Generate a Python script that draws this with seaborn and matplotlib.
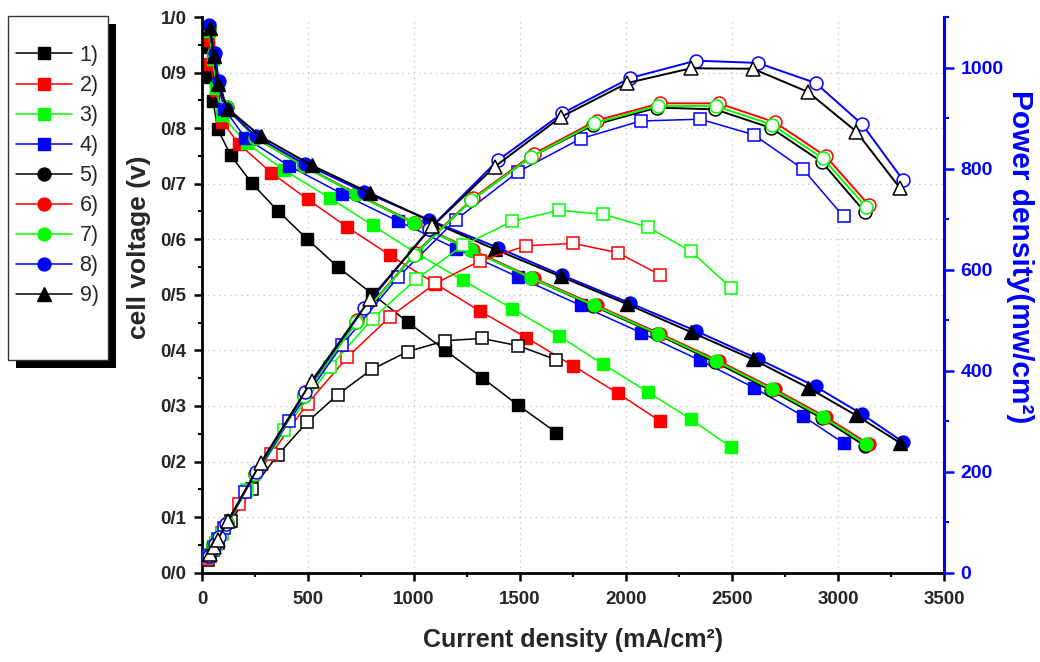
import matplotlib
matplotlib.use("Agg")
import matplotlib.pyplot as plt
import seaborn as sns
from matplotlib.lines import Line2D
from matplotlib.patches import Rectangle
from matplotlib.ticker import MultipleLocator

# --- data (current in mA/cm2, voltage in V, power in mW/cm2) ---
cur1 = [27, 38, 53, 74, 136, 235, 358, 495, 641, 802, 970, 1148, 1321, 1492, 1672]
volt1 = [0.946, 0.892, 0.848, 0.798, 0.751, 0.701, 0.651, 0.601, 0.550, 0.502, 0.451, 0.400, 0.351, 0.301, 0.252]
pow1 = [25.5, 33.9, 44.9, 59.1, 102.1, 164.7, 233.1, 297.5, 352.6, 402.6, 437.5, 459.2, 463.7, 449.1, 421.3]

cur2 = [30, 38, 65, 96, 176, 326, 498, 685, 888, 1101, 1310, 1530, 1752, 1961, 2160]
volt2 = [0.959, 0.916, 0.868, 0.811, 0.771, 0.720, 0.672, 0.622, 0.571, 0.520, 0.471, 0.423, 0.372, 0.323, 0.273]
pow2 = [28.8, 34.8, 56.4, 77.9, 135.7, 234.7, 334.7, 426.1, 507.0, 572.5, 617.0, 647.2, 651.7, 633.4, 589.7]

cur3 = [33, 50, 68, 93, 211, 389, 605, 805, 1010, 1232, 1464, 1684, 1892, 2104, 2306, 2495]
volt3 = [0.975, 0.925, 0.872, 0.823, 0.773, 0.724, 0.674, 0.625, 0.575, 0.526, 0.475, 0.426, 0.375, 0.325, 0.276, 0.226]
pow3 = [32.2, 46.3, 59.3, 76.5, 163.1, 281.6, 407.8, 503.1, 580.8, 648.0, 695.4, 717.4, 709.5, 683.8, 636.5, 563.9]

cur4 = [33, 55, 75, 105, 203, 411, 660, 923, 1199, 1492, 1786, 2070, 2350, 2603, 2834, 3026]
volt4 = [0.980, 0.930, 0.880, 0.835, 0.783, 0.732, 0.682, 0.633, 0.583, 0.532, 0.481, 0.432, 0.382, 0.333, 0.282, 0.233]
pow4 = [32.3, 51.2, 66.0, 87.7, 158.9, 300.9, 450.1, 584.3, 699.0, 793.7, 859.1, 894.2, 897.7, 866.8, 799.2, 705.1]

cur5 = [33, 58, 77, 117, 250, 479, 728, 999, 1271, 1554, 1846, 2146, 2420, 2684, 2924, 3128]
volt5 = [0.980, 0.935, 0.882, 0.838, 0.783, 0.732, 0.681, 0.629, 0.580, 0.530, 0.480, 0.429, 0.379, 0.328, 0.278, 0.228]
pow5 = [32.3, 54.2, 67.9, 98.0, 195.8, 350.6, 495.8, 628.4, 737.2, 823.6, 886.1, 920.6, 917.2, 880.4, 812.9, 713.2]

cur6 = [33, 58, 77, 117, 250, 482, 733, 1005, 1279, 1564, 1861, 2161, 2438, 2702, 2943, 3147]
volt6 = [0.980, 0.935, 0.882, 0.838, 0.783, 0.732, 0.681, 0.629, 0.580, 0.530, 0.481, 0.430, 0.381, 0.330, 0.280, 0.231]
pow6 = [32.3, 54.2, 67.9, 98.0, 195.8, 352.8, 499.2, 632.1, 741.8, 828.9, 895.1, 929.2, 928.9, 891.7, 824.0, 727.0]

cur7 = [33, 58, 77, 117, 250, 479, 728, 999, 1271, 1554, 1849, 2149, 2424, 2688, 2929, 3133]
volt7 = [0.980, 0.935, 0.882, 0.838, 0.783, 0.732, 0.681, 0.629, 0.580, 0.530, 0.481, 0.430, 0.381, 0.330, 0.280, 0.231]
pow7 = [32.3, 54.2, 67.9, 98.0, 195.8, 350.6, 495.8, 628.4, 737.2, 823.6, 889.4, 924.1, 923.5, 887.0, 820.1, 723.7]

cur8 = [33, 60, 80, 115, 255, 487, 766, 1070, 1395, 1700, 2019, 2330, 2621, 2894, 3114, 3307]
volt8 = [0.985, 0.935, 0.885, 0.835, 0.785, 0.735, 0.685, 0.635, 0.585, 0.535, 0.485, 0.435, 0.385, 0.335, 0.285, 0.235]
pow8 = [32.5, 56.1, 70.8, 96.0, 200.2, 357.9, 524.7, 679.5, 816.1, 909.5, 979.2, 1013.6, 1009.1, 969.5, 887.5, 777.1]

cur9 = [38, 55, 74, 122, 277, 518, 794, 1086, 1381, 1692, 2007, 2306, 2598, 2858, 3086, 3291]
volt9 = [0.980, 0.930, 0.880, 0.835, 0.785, 0.733, 0.683, 0.631, 0.582, 0.533, 0.483, 0.433, 0.384, 0.333, 0.283, 0.234]
pow9 = [37.2, 51.2, 65.1, 101.9, 217.4, 379.7, 542.3, 685.3, 803.7, 901.8, 969.4, 998.5, 997.6, 951.7, 873.3, 762.0]

labels = ['1)', '2)', '3)', '4)', '5)', '6)', '7)', '8)', '9)']
colors = ['black', 'red', '#00ff00', 'blue', 'black', 'red', '#00ff00', 'blue', 'black']
markers = ['s', 's', 's', 's', 'o', 'o', 'o', 'o', '^']

volt_ticks = [0.0, 0.1, 0.2, 0.3, 0.4, 0.5, 0.6, 0.7, 0.8, 0.9, 1.0]
volt_ticklabels = ['0/0', '0/1', '0/2', '0/3', '0/4', '0/5', '0/6', '0/7', '0/8', '0/9', '1/0']
cur_ticks = [0, 500, 1000, 1500, 2000, 2500, 3000, 3500]
pow_ticks = [0, 200, 400, 600, 800, 1000]

currents = [cur1, cur2, cur3, cur4, cur5, cur6, cur7, cur8, cur9]
voltages = [volt1, volt2, volt3, volt4, volt5, volt6, volt7, volt8, volt9]
powers = [pow1, pow2, pow3, pow4, pow5, pow6, pow7, pow8, pow9]

sns.set_style("ticks")
plt.rcParams['font.family'] = ['Liberation Sans', 'DejaVu Sans']

fig = plt.figure(figsize=(10.4, 6.62), dpi=100)
ax = fig.add_axes([0.1942, 0.135, 0.7135, 0.8393])
ax2 = ax.twinx()

msize = {'s': 8, 'o': 9.3, '^': 10.5}

# polarisation curves (filled symbols, left axis)
for i in range(9):
    m = markers[i]
    lw = 1.1 if m == 's' else 1.4
    sns.lineplot(x=currents[i], y=voltages[i], ax=ax, color=colors[i], marker=m,
                 markersize=msize[m], markerfacecolor=colors[i], markeredgecolor=colors[i],
                 markeredgewidth=1, linewidth=lw, sort=False, estimator=None,
                 errorbar=None, legend=False)

# power density curves (open symbols, right axis)
for i in range(9):
    m = markers[i]
    lw = 1.1 if m == 's' else 1.4
    sns.lineplot(x=currents[i], y=powers[i], ax=ax2, color=colors[i], marker=m,
                 markersize=msize[m], markerfacecolor='white', markeredgecolor=colors[i],
                 markeredgewidth=1.1, linewidth=lw, sort=False, estimator=None,
                 errorbar=None, legend=False)

ax.set_xlim(0, 3500)
ax.set_ylim(0, 1.0)
ax2.set_ylim(0, 1100)

# left axis
ax.set_yticks(volt_ticks, labels=volt_ticklabels, fontsize=13.5, fontweight='bold')
ax.yaxis.set_minor_locator(MultipleLocator(0.05))
ax.set_xticks(cur_ticks, labels=[str(t) for t in cur_ticks], fontsize=13.5, fontweight='bold')
ax.xaxis.set_minor_locator(MultipleLocator(250))
ax.tick_params(which='major', direction='out', length=6, width=1.8, color='black', pad=5)
ax.tick_params(axis='x', which='major', pad=7)
ax.tick_params(which='minor', direction='out', length=3, width=1.5, color='black')
for s in ['top', 'right']:
    ax.spines[s].set_visible(False)
for s in ['left', 'bottom']:
    ax.spines[s].set_linewidth(2)
    ax.spines[s].set_color('black')

ax.grid(True, which='major', color='#c8c8c8', linestyle=(0, (1, 3)), linewidth=1)
ax.yaxis.get_gridlines()[-1].set_visible(False)
ax.set_axisbelow(True)

# right axis
ax2.set_yticks(pow_ticks, labels=[str(t) for t in pow_ticks], fontsize=14, fontweight='bold', color='blue')
ax2.yaxis.set_minor_locator(MultipleLocator(100))
ax2.tick_params(which='major', direction='out', length=7, width=1.8, color='blue', pad=5)
ax2.tick_params(which='minor', direction='out', length=3.5, width=1.5, color='blue')
for s in ['top', 'left', 'bottom']:
    ax2.spines[s].set_visible(False)
ax2.spines['right'].set_linewidth(2.2)
ax2.spines['right'].set_color('blue')

ax.set_xlabel('Current density (mA/cm²)', fontsize=18, fontweight='bold')
ax.xaxis.set_label_coords(0.5, -0.1)
ax.set_ylabel('cell voltage (v)', fontsize=19, fontweight='bold')
ax.yaxis.set_label_coords(-0.069, 0.586)
ax2.set_ylabel('Power density(mw/cm²)', fontsize=21.5, fontweight='bold', color='blue',
               rotation=270, va='center')
ax2.yaxis.set_label_coords(1.103, 0.568)

# legend box with solid shadow, drawn in pixel terms of the 1040x662 canvas
W, H = 1040.0, 662.0
fig.patches.append(Rectangle((16 / W, 1 - 368 / H), 100 / W, 344 / H, transform=fig.transFigure,
                             facecolor='black', edgecolor='none', zorder=1))
fig.patches.append(Rectangle((8 / W, 1 - 360 / H), 100 / W, 344 / H, transform=fig.transFigure,
                             facecolor='white', edgecolor='#333333', linewidth=1, zorder=2))
handles = [Line2D([], [], color=colors[i], marker=markers[i], markersize=msize[markers[i]],
                  markerfacecolor=colors[i], markeredgecolor=colors[i], linewidth=1.1)
           for i in range(9)]
leg = fig.legend(handles, labels, loc='upper left', bbox_to_anchor=(16 / W, 1 - 45 / H),
                 frameon=False, fontsize=15.5, borderpad=0, handlelength=2.6,
                 handletextpad=0.35, labelspacing=0.42, borderaxespad=0)
leg.set_zorder(5)

fig.savefig('out.png', dpi=100, facecolor='white')
